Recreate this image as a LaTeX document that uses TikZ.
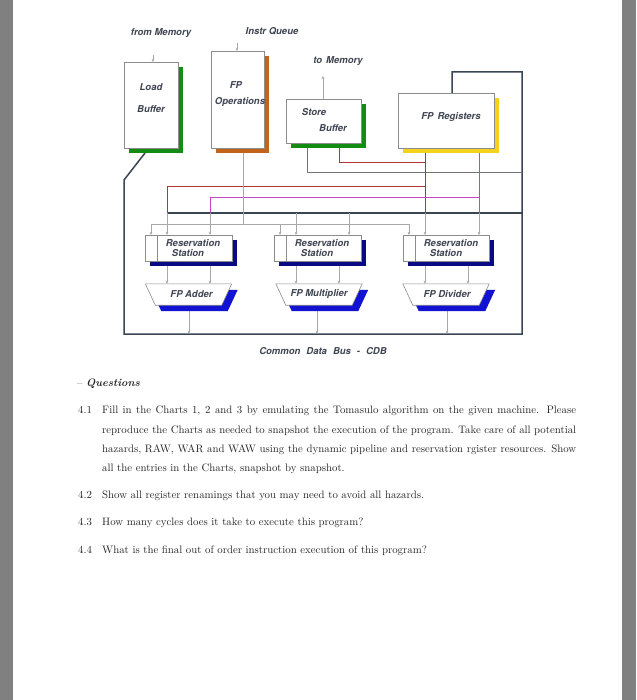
\documentclass[tikz,border=0pt]{standalone}
\usepackage{fontspec}
\newfontfamily\dg{TeX Gyre Heros}
\usetikzlibrary{arrows.meta,shapes.geometric,shadows,calc}
\pgfdeclarelayer{back}
\pgfdeclarelayer{bg}
\pgfdeclarelayer{unitl}
\pgfsetlayers{back,bg,unitl,main}
\definecolor{ink}{HTML}{3E4451}
\definecolor{boxline}{HTML}{8C8C8C}
\definecolor{framec}{HTML}{3A4654}
\definecolor{lbgreen}{HTML}{128C12}
\definecolor{opor}{HTML}{C2641C}
\definecolor{regyel}{HTML}{F2D21A}
\definecolor{rsnavy}{HTML}{0A0A82}
\definecolor{fublue}{HTML}{1212D2}
\definecolor{wred}{HTML}{B5333B}
\definecolor{wmag}{HTML}{C444C4}
\definecolor{arrg}{HTML}{A8A8A8}
\definecolor{wgray}{HTML}{747474}
\definecolor{pageg}{HTML}{808080}
\definecolor{textc}{HTML}{262626}
\newcommand\qfont{\fontsize{10.8}{13}\selectfont}
\tikzset{
  lbl/.style={font=\dg\bfseries\itshape\fontsize{9.5}{10}\selectfont, text=ink, inner sep=0},
  sh/.style={drop shadow={shadow xshift=5pt, shadow yshift=-5pt, fill=#1, opacity=1}},
  unit/.style={draw=boxline, fill=white, line width=0.6pt, inner sep=0, anchor=north west},
  fu/.style={rectangle, minimum width=86, minimum height=21, inner sep=0, lbl},
  arr/.style={draw=arrg, line width=0.6pt, -{Stealth[length=3.2pt,width=2.8pt]}},
  framew/.style={draw=framec, line width=1.5pt, line join=miter},
  redw/.style={draw=wred, line width=0.9pt},
  magw/.style={draw=wmag, line width=0.9pt},
  grayw/.style={draw=wgray, line width=0.9pt},
  lgw/.style={draw=arrg, line width=0.6pt},
  tx/.style={font=\qfont, text=textc, inner sep=0, anchor=base west}
}
\begin{document}
\begin{tikzpicture}[x=1pt,y=-1pt]
\useasboundingbox (0,0) rectangle (636,700);
\begin{pgfonlayer}{back}
\fill[white] (0,0) rectangle (636,700);
\fill[pageg] (0,0) rectangle (13,700);
\fill[pageg] (622,0) rectangle (636,700);
\end{pgfonlayer}

% units
\node[unit, sh=lbgreen, minimum width=54, minimum height=86] (lb) at (124,62) {};
\node[unit, sh=opor, minimum width=53, minimum height=97] (fpo) at (211,51) {};
\node[unit, sh=lbgreen, minimum width=75, minimum height=44] (sb) at (286,99) {};
\node[unit, sh=regyel, minimum width=96, minimum height=55] (fpr) at (398,93) {};

\node[lbl] (lbt1) at (151,87) {Load};
\node[lbl] (lbt2) at (151,109) {Buffer};
\node[lbl] (fpt1) at (236,85) {FP};
\node[lbl] (fpt2) at (240,102) {Operations};
\node[lbl] (sbt1) at (314,112) {Store};
\node[lbl] (sbt2) at (333,128) {Buffer};
\node[lbl] (frt) at (451,117) {FP\hspace{4pt}Registers};

\node[lbl] (fmem) at (161,33) {from Memory};
\node[lbl] (iq) at (272,31) {Instr Queue};
\node[lbl] (tmem) at (338,61) {to\hspace{4pt}Memory};

% reservation stations
\node[unit, sh=rsnavy, minimum width=87, minimum height=26] (ars) at (145,235) {};
\node[unit, sh=rsnavy, minimum width=87, minimum height=26] (mrs) at (274,235) {};
\node[unit, sh=rsnavy, minimum width=86, minimum height=26] (drs) at (403,235) {};
\foreach \r in {ars,mrs,drs}{
  \draw[boxline, line width=0.6pt] ($(\r.north west)+(12,0)$) -- ($(\r.south west)+(12,0)$);
  \node[lbl] (\r t1) at ($(\r.north west)+(48,8)$) {Reservation};
  \node[lbl] (\r t2) at ($(\r.north west)+(43,18.5)$) {Station};
}

% functional units (trapezoids)
\node[fu] (fa) at (188.5,294.5) {\hspace{6pt}FP Adder};
\node[fu] (fm) at (319,294.5) {FP Multiplier};
\node[fu] (fd) at (446,294.5) {\hspace{2pt}FP Divider};
\begin{pgfonlayer}{unitl}
\foreach \f in {fa,fm,fd}{
  \fill[fublue] ($(\f.north west)+(6,6)$) -- ($(\f.north east)+(6,6)$)
     -- ($(\f.south east)+(-4,6)$) -- ($(\f.south west)+(16,6)$) -- cycle;
  \filldraw[draw=boxline, fill=white, line width=0.6pt] (\f.north west) -- (\f.north east)
     -- ($(\f.south east)+(-10,0)$) -- ($(\f.south west)+(10,0)$) -- cycle;
}
\end{pgfonlayer}

\node[lbl] (cdb) at (323,351) {Common\hspace{6pt}Data\hspace{6pt}Bus\hspace{6pt}-\hspace{6pt}CDB};

\begin{pgfonlayer}{bg}
% frame (CDB loop)
\coordinate (f0) at (145,153);
\coordinate (f1) at (124,180);
\coordinate (f2) at (124,334);
\coordinate (f3) at (522,334);
\coordinate (f4) at (522,72);
\coordinate (f5) at (452,72);
\draw[framew] (f0) -- (f1) -- (f2) -- (f3) -- (f4) -- (f5) -- (f5 |- fpr.north);
\coordinate (d0) at (167,213);
\draw[framew] (d0) -- (d0 -| f3);

% store buffer gray line
\coordinate (s1) at (307,172);
\draw[grayw] (s1 |- sb.south) -- (s1) -- (s1 -| f3);

% red wires
\coordinate (r1) at (339,162);
\coordinate (rx) at (425,213);
\coordinate (r3) at (167,186);
\draw[redw] (r1 |- sb.south) -- (r1) -- (r1 -| rx);
\draw[redw] (rx |- fpr.south) -- (rx);
\draw[redw] (d0) -- (r3) -- (r3 -| rx);

% magenta wires
\coordinate (mx) at (479,213);
\coordinate (m3) at (210,197);
\draw[magw] (mx |- fpr.south) -- (mx);
\draw[magw] (m3 |- d0) -- (m3) -- (m3 -| mx);

% FP operations distribution
\coordinate (g0) at (243,224);
\coordinate (gl) at (151,224);
\coordinate (gr) at (409,224);
\draw[lgw] (g0 |- fpo.south) -- (g0);
\draw[lgw] (gl) -- (gr);
\draw[arr] (gl) -- (gl |- ars.north);
\coordinate (gm) at (280,224);
\draw[arr] (gm) -- (gm |- mrs.north);
\draw[arr] (gr) -- (gr |- drs.north);

% CDB to reservation stations
\foreach \x/\n [count=\i] in {167/ars,210/ars,296/mrs,349/mrs,425/drs,479/drs}{
  \coordinate (t\i) at (\x,213);
  \draw[arr] (t\i) -- (t\i |- \n.north);
}
% RS to FU
\foreach \x/\a/\b [count=\i] in {167/ars/fa,210/ars/fa,296/mrs/fm,339/mrs/fm,425/drs/fd,468/drs/fd}{
  \coordinate (u\i) at (\x,262);
  \draw[arr] (u\i |- \a.south) -- (u\i |- \b.north);
}
% FU to CDB
\coordinate (oa) at (189,310);
\draw[arr] (oa |- fa.south) -- (oa |- f3);
\coordinate (om) at (317,310);
\draw[arr] (om |- fm.south) -- (om |- f3);
\coordinate (od) at (447,310);
\draw[arr] (od |- fd.south) -- (od |- f3);

% memory / queue arrows
\coordinate (am) at (153,55);
\draw[arr] (am) -- (am |- lb.north);
\coordinate (aq) at (237,43);
\draw[arr] (aq) -- (aq |- fpo.north);
\coordinate (at) at (323,76);
\draw[arr] (at |- sb.north) -- (at);
\end{pgfonlayer}

% questions
\node[tx] (qh) at (77,386.5) {--\ \textbf{\textit{Questions}}};
\node[tx] (n41) at (78,413.5) {4.1};
\node[tx] (q1a) at (102,413.5) {\makebox[474pt][s]{Fill in the Charts 1, 2 and 3 by emulating the Tomasulo algorithm on the given machine. Please}};
\node[tx] (q1b) at (102,433) {\makebox[474pt][s]{reproduce the Charts as needed to snapshot the execution of the program. Take care of all potential}};
\node[tx] (q1c) at (102,452.5) {\makebox[474pt][s]{hazards, RAW, WAR and WAW using the dynamic pipeline and reservation rgister resources. Show}};
\node[tx] (q1d) at (102,471.5) {all the entries in the Charts, snapshot by snapshot.};
\node[tx] (n42) at (78,498.5) {4.2};
\node[tx] (q2) at (102,498.5) {Show all register renamings that you may need to avoid all hazards.};
\node[tx] (n43) at (78,525.5) {4.3};
\node[tx] (q3) at (102,525.5) {How many cycles does it take to execute this program?};
\node[tx] (n44) at (78,553.5) {4.4};
\node[tx] (q4) at (102,553.5) {What is the final out of order instruction execution of this program?};
\end{tikzpicture}
\end{document}
